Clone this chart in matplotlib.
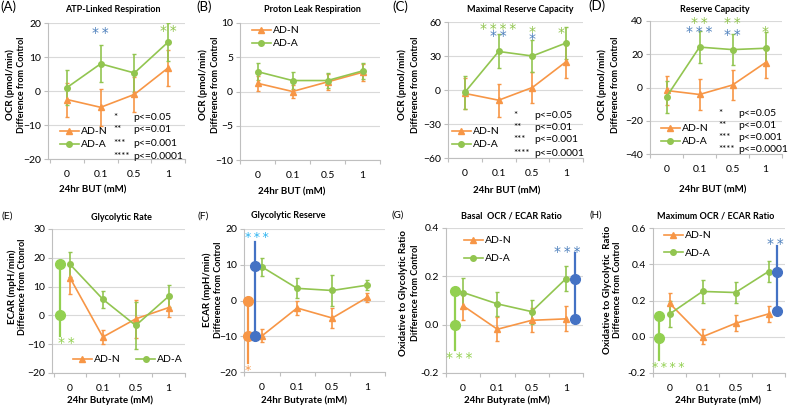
import matplotlib
matplotlib.use("Agg")
import matplotlib.pyplot as plt
from matplotlib.lines import Line2D
from matplotlib.ticker import FormatStrFormatter
import numpy as np

plt.rcParams['font.family'] = ['Lato', 'DejaVu Sans']

W, H = 790, 407
ORANGE = '#F79646'
GREEN = '#92C550'
LGREEN = '#92D050'
BLUE = '#4F81BD'
DBLUE = '#4472C4'
CYAN = '#2EB4F0'
GRID = '#D9D9D9'
AXC = '#BFBFBF'

doses = ['0', '0.1', '0.5', '1']

# top row: OCR panels (mean, error)
atp_n = [-2.5, -4.8, -1.0, 6.8]
atp_n_err = [5.0, 5.5, 5.2, 5.3]
atp_a = [1.0, 8.0, 5.3, 14.4]
atp_a_err = [5.2, 5.4, 5.5, 5.5]

leak_n = [1.2, 0.0, 1.4, 2.8]
leak_n_err = [1.1, 1.0, 1.2, 1.2]
leak_a = [2.9, 1.6, 1.6, 3.0]
leak_a_err = [1.2, 1.2, 1.1, 1.2]

maxres_n = [-3.0, -9.0, 2.2, 25.0]
maxres_n_err = [13.5, 14.5, 13.5, 14.5]
maxres_a = [-2.0, 34.0, 30.0, 41.5]
maxres_a_err = [14.5, 15.0, 14.5, 14.5]

res_n = [-1.8, -4.2, 1.5, 15.0]
res_n_err = [9.0, 9.5, 9.0, 9.0]
res_a = [-5.6, 24.3, 22.8, 23.6]
res_a_err = [9.5, 9.5, 9.5, 9.5]

# bottom row: ECAR and ratio panels
glyrate_n = [13.0, -7.5, -1.2, 2.7]
glyrate_n_err = [5.5, 2.5, 6.5, 3.3]
glyrate_a = [17.7, 5.6, -3.5, 6.6]
glyrate_a_err = [4.3, 3.0, 8.0, 3.8]

glyres_n = [-9.9, -2.1, -4.9, 0.9]
glyres_n_err = [1.8, 2.0, 2.8, 1.3]
glyres_a = [9.4, 3.4, 2.8, 4.3]
glyres_a_err = [2.5, 2.8, 4.3, 1.3]

basal_n = [0.078, -0.019, 0.018, 0.024]
basal_n_err = [0.058, 0.05, 0.05, 0.052]
basal_a = [0.133, 0.086, 0.054, 0.19]
basal_a_err = [0.062, 0.05, 0.05, 0.052]

maxratio_n = [0.185, 0.0, 0.074, 0.126]
maxratio_n_err = [0.055, 0.042, 0.045, 0.045]
maxratio_a = [0.125, 0.25, 0.244, 0.36]
maxratio_a_err = [0.07, 0.062, 0.06, 0.06]

# AD-N vs AD-A comparison markers (two means + bar end)
e_ctrl_a = [18.0, 0.0]
e_ctrl_a_end = -7.0
f_ctrl_n = [0.0, -10.0]
f_ctrl_n_end = -17.5
f_ctrl_b = [9.6, -10.0]
f_ctrl_b_end = 16.5
g_ctrl_a = [0.14, 0.0]
g_ctrl_a_end = -0.105
g_ctrl_b = [0.188, 0.025]
g_ctrl_b_end = 0.295
h_ctrl_a = [0.116, -0.005]
h_ctrl_a_end = -0.126
h_ctrl_b = [0.356, 0.142]
h_ctrl_b_end = 0.5

sig_keys = ['*', '**', '***', '****']
sig_vals = ['p<=0.05', 'p<=0.01', 'p<=0.001', 'p<=0.0001']

fig = plt.figure(figsize=(W / 100, H / 100), dpi=100)


def fx(x):
    return x / W


def fy(y):
    return 1 - y / H


def make_axes(l, t, r, b, xlim, ylim, step):
    ax = fig.add_axes([fx(l), fy(b), (r - l) / W, (b - t) / H])
    ax.set_xlim(*xlim)
    ax.set_ylim(*ylim)
    ax.set_yticks(np.arange(ylim[0], ylim[1] + step / 2, step))
    ax.set_xticks(range(4))
    ax.set_xticklabels(doses)
    ax.set_xticks(np.arange(-0.5, 3.6, 1.0), minor=True)
    ax.yaxis.grid(True, color=GRID, lw=0.8)
    ax.set_axisbelow(True)
    for s in ['top', 'right']:
        ax.spines[s].set_visible(False)
    for s in ['left', 'bottom']:
        ax.spines[s].set_color(AXC)
        ax.spines[s].set_linewidth(0.8)
    ax.tick_params(axis='x', which='major', length=0, labelsize=7.5, pad=8)
    ax.tick_params(axis='x', which='minor', length=3, color=AXC, width=0.8)
    ax.tick_params(axis='y', length=3, color=AXC, width=0.8, labelsize=7.5, pad=2)
    return ax


def plot_pair(ax, yn, en, ya, ea):
    x = np.arange(4)
    ax.errorbar(x, yn, yerr=en, color=ORANGE, marker='^', ms=4, lw=1.2,
                elinewidth=1.2, capsize=1.5, zorder=3)
    ax.errorbar(x, ya, yerr=ea, color=GREEN, marker='o', ms=4, lw=1.2,
                elinewidth=1.2, capsize=1.5, zorder=3)


def ctrl(ax, xpos, vals, end, color):
    lo = min(vals + [end])
    hi = max(vals + [end])
    ax.plot([xpos, xpos], [lo, hi], color=color, lw=1.6, zorder=4, clip_on=False)
    ax.plot([xpos, xpos], vals, 'o', color=color, ms=7, zorder=5, clip_on=False)


def legend_at(ax, x, y, ncol=1, spacing=0.35):
    handles = [Line2D([], [], color=ORANGE, marker='^', ms=4, lw=1.2),
               Line2D([], [], color=GREEN, marker='o', ms=4, lw=1.2)]
    ax.legend(handles, ['AD-N', 'AD-A'], loc='upper left',
              bbox_to_anchor=(fx(x), fy(y)), bbox_transform=fig.transFigure,
              frameon=False, fontsize=7.5, handlelength=1.8, handletextpad=0.2,
              labelspacing=spacing, borderpad=0, borderaxespad=0, ncol=ncol,
              columnspacing=1.5)


def stars(ax, x, y, n, color, size=10):
    s = '\u2009'.join('*' * n)
    ax.text(x, y, s, color=color, fontsize=size, ha='center', va='center',
            family='DejaVu Sans', clip_on=False)


def sig_table(xs, xp, ys):
    for k, v, y in zip(sig_keys, sig_vals, ys):
        fig.text(fx(xs), fy(y), k, fontsize=7, va='center', ha='left')
        fig.text(fx(xp), fy(y), v, fontsize=7.5, va='center', ha='left')


def labels(letter, lx, ly, lsize, title, tx, ty, yl1, yl2, y1x, y2x, ylc,
           xlabel, xx, xy):
    fig.text(fx(lx), fy(ly), letter, fontsize=lsize, ha='left', va='center')
    fig.text(fx(tx), fy(ty), title, fontsize=6.5, fontweight='bold',
             ha='center', va='center')
    fig.text(fx(y1x), fy(ylc), yl1, fontsize=7, fontweight='bold',
             rotation=90, ha='center', va='center')
    fig.text(fx(y2x), fy(ylc), yl2, fontsize=6.5, fontweight='bold',
             rotation=90, ha='center', va='center')
    fig.text(fx(xx), fy(xy), xlabel, fontsize=7, fontweight='bold',
             ha='center', va='center')


# (A)
ax = make_axes(48, 23, 185, 159, (-0.56, 3.5), (-20, 20), 10)
plot_pair(ax, atp_n, atp_n_err, atp_a, atp_a_err)
legend_at(ax, 60, 127)
stars(ax, 1, 17.1, 2, BLUE)
stars(ax, 3, 17.7, 2, GREEN)
sig_table(113, 133, [117, 130, 143, 156])
labels('(A)', 0, 7, 9.5, 'ATP-Linked Respiration', 113, 10,
       'OCR (pmol/min)', 'Difference from Control', 10, 22, 85,
       '24hr BUT (mM)', 93, 190)

# (B)
ax = make_axes(240, 23, 380, 160, (-0.5, 3.42), (-10, 10), 5)
plot_pair(ax, leak_n, leak_n_err, leak_a, leak_a_err)
legend_at(ax, 252, 26)
labels('(B)', 196, 7, 9.5, 'Proton Leak Respiration', 312, 10,
       'OCR (pmol/min)', 'Difference from Control', 203, 216, 85,
       '24hr BUT (mM)', 292, 192)

# (C)
ax = make_axes(448, 22, 583, 158, (-0.5, 3.47), (-60, 60), 30)
plot_pair(ax, maxres_n, maxres_n_err, maxres_a, maxres_a_err)
legend_at(ax, 452, 127)
stars(ax, 1, 53.9, 4, GREEN)
stars(ax, 1, 47.7, 2, BLUE)
stars(ax, 2, 51.2, 1, GREEN)
stars(ax, 2, 45.0, 1, BLUE)
stars(ax, 2.85, 50.3, 1, GREEN)
sig_table(513, 534, [115, 128, 140, 153])
labels('(C)', 392, 7, 9.5, 'Maximal Reserve Capacity', 520, 10,
       'OCR (pmol/min)', 'Difference from Control', 402, 415, 85,
       '24hr BUT (mM)', 507, 191)

# (D)
ax = make_axes(650, 21, 782, 154, (-0.43, 3.34), (-40, 40), 20)
plot_pair(ax, res_n, res_n_err, res_a, res_a_err)
legend_at(ax, 661, 124)
stars(ax, 1, 38.8, 2, GREEN)
stars(ax, 1, 33.4, 3, BLUE)
stars(ax, 2, 38.8, 2, GREEN)
stars(ax, 2, 31.6, 2, BLUE)
stars(ax, 3, 33.4, 1, GREEN)
sig_table(718, 738, [113, 125, 137, 150])
labels('(D)', 588, 6, 9.5, 'Reserve Capacity', 715, 9,
       'OCR (pmol/min)', 'Difference from Control', 602, 615, 85,
       '24hr BUT (mM)', 713, 190)

# (E)
ax = make_axes(52, 229, 185, 373, (-0.55, 3.5), (-20, 30), 10)
plot_pair(ax, glyrate_n, glyrate_n_err, glyrate_a, glyrate_a_err)
ctrl(ax, -0.3, e_ctrl_a, e_ctrl_a_end, LGREEN)
stars(ax, -0.1, -9.6, 2, LGREEN)
legend_at(ax, 73, 355, ncol=2)
labels('(E)', 2, 216, 7.5, 'Glycolytic Rate', 121, 217,
       'ECAR (mpH/min)', 'Difference from Ctonrol', 12, 23, 287,
       '24hr Butyrate (mM)', 110, 400)

# (F)
ax = make_axes(244, 229, 385, 372, (-0.51, 3.5), (-20, 20), 10)
plot_pair(ax, glyres_n, glyres_n_err, glyres_a, glyres_a_err)
ctrl(ax, -0.4, f_ctrl_n, f_ctrl_n_end, ORANGE)
ctrl(ax, -0.2, f_ctrl_b, f_ctrl_b_end, DBLUE)
stars(ax, -0.4, -19.5, 1, ORANGE, 9)
stars(ax, -0.15, 17.5, 3, CYAN, 9)
labels('(F)', 198, 216, 7.5, 'Glycolytic Reserve', 288, 216,
       'ECAR (mpH/min)', 'Difference from Control', 207, 218, 290,
       '24hr Butyrate (mM)', 304, 400)

# (G)
ax = make_axes(446, 228, 583, 373, (-0.48, 3.4), (-0.2, 0.4), 0.2)
ax.yaxis.set_major_formatter(FormatStrFormatter('%.1f'))
plot_pair(ax, basal_n, basal_n_err, basal_a, basal_a_err)
ctrl(ax, -0.25, g_ctrl_a, g_ctrl_a_end, LGREEN)
ctrl(ax, 3.28, g_ctrl_b, g_ctrl_b_end, DBLUE)
stars(ax, -0.1, -0.136, 3, LGREEN)
stars(ax, 3.05, 0.302, 3, BLUE)
legend_at(ax, 464, 236, spacing=0.85)
labels('(G)', 392, 215, 7, 'Basal  OCR / ECAR Ratio', 511, 216,
       'Oxidative to Glycolytic Ratio', 'Difference from Control', 403, 415, 293,
       '24hr Butyrate (mM)', 507, 400)

# (H)
ax = make_axes(653, 228, 785, 373, (-0.47, 3.38), (-0.2, 0.6), 0.2)
ax.yaxis.set_major_formatter(FormatStrFormatter('%.1f'))
plot_pair(ax, maxratio_n, maxratio_n_err, maxratio_a, maxratio_a_err)
ctrl(ax, -0.32, h_ctrl_a, h_ctrl_a_end, LGREEN)
ctrl(ax, 3.26, h_ctrl_b, h_ctrl_b_end, DBLUE)
stars(ax, -0.03, -0.17, 4, LGREEN, 9)
stars(ax, 3.2, 0.512, 2, BLUE)
legend_at(ax, 664, 231, spacing=0.8)
labels('(H)', 590, 215, 7, 'Maximum OCR / ECAR Ratio', 716, 216,
       'Oxidative to Glycolytic  Ratio', 'Difference from Control', 607, 618, 290,
       '24hr Butyrate (mM)', 718, 400)

fig.savefig('out.png', dpi=100)
